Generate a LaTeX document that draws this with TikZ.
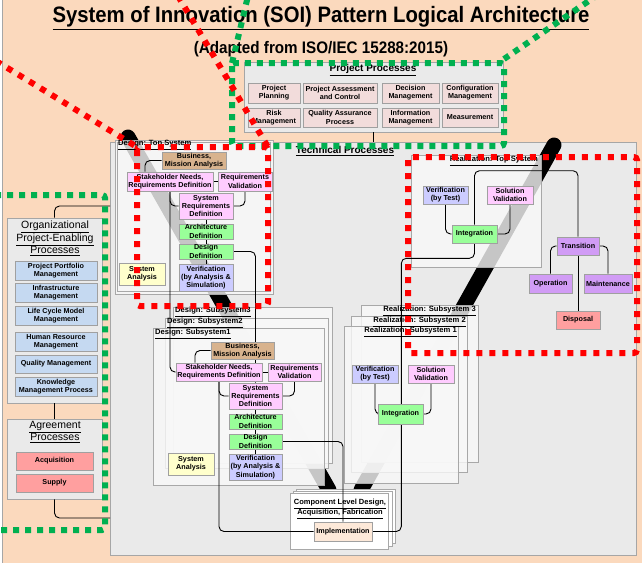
\documentclass[tikz,border=0pt]{standalone}
\usepackage{fontspec}
\setmainfont{Liberation Sans}
\definecolor{cBg}{HTML}{FBD9BD}
\definecolor{cPanel}{HTML}{EAEAEA}
\definecolor{cPanB}{HTML}{A6A6A6}
\definecolor{cSub}{HTML}{F8F8F8}
\definecolor{cSubB}{HTML}{A8A8A8}
\definecolor{cNodeB}{HTML}{A0A0A0}
\definecolor{cPP}{HTML}{F2DCDB}
\definecolor{cOrg}{HTML}{C5D9F1}
\definecolor{cAgr}{HTML}{FF9F9F}
\definecolor{cTan}{HTML}{D8B38E}
\definecolor{cPink}{HTML}{FFCCFF}
\definecolor{cGrn}{HTML}{99FF99}
\definecolor{cLav}{HTML}{CCCCFF}
\definecolor{cYel}{HTML}{FFFFCC}
\definecolor{cViol}{HTML}{D19CF5}
\definecolor{cImpl}{HTML}{FDE9D9}
\definecolor{cRed}{HTML}{FF0000}
\definecolor{cGreenD}{HTML}{00B050}
\pgfdeclarelayer{back}
\pgfdeclarelayer{mid}
\pgfdeclarelayer{front}
\pgfsetlayers{back,mid,main,front}
\newcommand\bx[7]{\node[#1, minimum width={(#4)-(#2)}, minimum height={(#5)-(#3)}] (#7) at ({((#2)+(#4))/2},{((#3)+(#5))/2}) {#6};}
\tikzset{
  panel/.style={draw=cPanB, fill=cPanel, line width=0.8pt, inner sep=0pt},
  spanel/.style={draw=cSubB, fill=cSub, fill opacity=0.8, line width=0.7pt, inner sep=0pt},
  cpanel/.style={draw=cSubB, fill=white, line width=0.7pt, inner sep=0pt},
  nb/.style={draw=cNodeB, line width=0.6pt, align=center, inner sep=0pt, font=\fontsize{7.2}{8.2}\selectfont\bfseries},
  ppb/.style={nb, fill=cPP},
  orgb/.style={nb, fill=cOrg},
  agrb/.style={nb, fill=cAgr},
  tanb/.style={nb, fill=cTan},
  pinkb/.style={nb, fill=cPink},
  grnb/.style={nb, fill=cGrn},
  lavb/.style={nb, fill=cLav},
  yelb/.style={nb, fill=cYel},
  violb/.style={nb, fill=cViol},
  dispb/.style={nb, fill=cAgr},
  implb/.style={nb, fill=cImpl},
  ptitle/.style={font=\fontsize{10}{12}\selectfont\bfseries, inner sep=0pt},
  otitle/.style={font=\fontsize{10.5}{12.5}\selectfont, inner sep=0pt, align=center},
  stitle/.style={font=\fontsize{7.6}{9}\selectfont\bfseries, inner sep=0pt},
  conn/.style={draw=black, line width=0.9pt, rounded corners=5pt},
  band/.style={draw=black, line width=15pt, line cap=round},
  reddash/.style={draw=cRed, line width=6pt, dash pattern=on 6pt off 7pt, rounded corners=3pt},
  greendash/.style={draw=cGreenD, line width=6pt, dash pattern=on 6pt off 6pt, rounded corners=3pt}
}
\begin{document}
\begin{tikzpicture}[x=1pt,y=-1pt]
\useasboundingbox (0,0) rectangle (642,563);

\begin{pgfonlayer}{back}
\fill[white] (0,0) rectangle (642,563);
\fill[cBg] (2,0) rectangle (642,563);
\draw[cPanB, line width=0.8pt] (2,0) -- (2,563);
% technical panel
\bx{panel}{110}{142}{636}{555}{}{tp}
% project processes panel
\bx{panel}{244}{62}{503}{132}{}{pp}
% organizational / agreement panels
\bx{panel}{7}{218}{102}{403}{}{org}
\bx{panel}{7}{419}{102}{499}{}{agr}
% black bands
\draw[band] (128,137) -- (329,490);
\draw[band] (554,145) -- (361,490);
% design top system
\bx{spanel}{115}{140}{273}{294}{}{dt}
\draw[cSubB, line width=0.6pt] (117.5,142.5) rectangle (270.5,291.5);
% design subsystems
\bx{spanel}{173}{307}{332}{463}{}{ds3}
\bx{spanel}{165}{318}{328}{468}{}{ds2}
\bx{spanel}{153}{328}{324}{485}{}{ds1}
% realization top
\bx{spanel}{411}{155}{541}{267}{}{rt}
% realization subsystems
\bx{spanel}{361}{305}{478}{462}{}{rs3}
\bx{spanel}{351}{316}{467}{472}{}{rs2}
\bx{spanel}{344}{326}{458}{483}{}{rs1}
% component level
\bx{cpanel}{296}{489}{395}{543}{}{cl3}
\bx{cpanel}{293}{491}{392}{546}{}{cl2}
\bx{cpanel}{290}{493}{388}{549}{}{cl1}
\end{pgfonlayer}

% titles
\node[font=\fontsize{20.3}{24}\selectfont\bfseries, inner sep=0pt] (title) at (321,18) {\scalebox{1}[1.1]{\underline{System of Innovation (SOI) Pattern Logical Architecture}}};
\node[font=\fontsize{15.2}{18}\selectfont\bfseries, inner sep=0pt] (subtitle) at (321,49) {\scalebox{1}[1.1]{(Adapted from ISO/IEC 15288:2015)}};
\node[ptitle] (tptitle) at (345,151) {\underline{Technical Processes}};
\node[ptitle] (pptitle) at (373,70) {\underline{Project Processes}};
\node[otitle, anchor=north] (orgtitle) at (55,221) {\underline{Organizational}\\\underline{Project-Enabling}\\\underline{Processes}};
\node[otitle, anchor=north] (agrtitle) at (55,421) {\underline{Agreement}\\\underline{Processes}};
\node[stitle, anchor=west] (dttitle) at (118,145) {\underline{Design: Top System}};
\node[stitle, anchor=west] (ds3t) at (175,312) {\underline{Design: Subsystem3}};
\node[stitle, anchor=west] (ds2t) at (167,323) {\underline{Design: Subsystem2}};
\node[stitle, anchor=west] (ds1t) at (155,334) {\underline{Design: Subsystem1}};
\node[stitle, anchor=east] (rttitle) at (538,161) {\underline{Realization: Top System}};
\node[stitle, anchor=east] (rs3t) at (476,311) {\underline{Realization: Subsystem 3}};
\node[stitle, anchor=east] (rs2t) at (466,322) {\underline{Realization: Subsystem 2}};
\node[stitle, anchor=east] (rs1t) at (457,332) {\underline{Realization: Subsystem 1}};
\node[stitle, align=center, font=\fontsize{7.5}{8.5}\selectfont\bfseries] (cltitle) at (340,509) {\underline{Component Level Design,}\\\underline{Acquisition, Fabrication}};

% project process boxes
\bx{ppb}{248}{83}{300}{103}{Project\\Planning}{pp1}
\bx{ppb}{303}{83}{377}{103}{Project Assessment\\and Control}{pp2}
\bx{ppb}{382}{83}{439}{103}{Decision\\Management}{pp3}
\bx{ppb}{442}{83}{498}{103}{Configuration\\Management}{pp4}
\bx{ppb}{248}{108}{300}{127}{Risk\\Management}{pp5}
\bx{ppb}{303}{108}{377}{127}{Quality Assurance\\Process}{pp6}
\bx{ppb}{382}{108}{439}{127}{Information\\Management}{pp7}
\bx{ppb}{442}{108}{498}{127}{Measurement}{pp8}

% organizational boxes
\bx{orgb}{15}{261}{97}{280}{Project Portfolio\\Management}{ob1}
\bx{orgb}{15}{283}{97}{302}{Infrastructure\\Management}{ob2}
\bx{orgb}{15}{306}{97}{325}{Life Cycle Model\\Management}{ob3}
\bx{orgb}{15}{332}{97}{351}{Human Resource\\Management}{ob4}
\bx{orgb}{15}{355}{97}{373}{Quality Management}{ob5}
\bx{orgb}{15}{377}{97}{396}{Knowledge\\Management Process}{ob6}

% agreement boxes
\bx{agrb}{16}{452}{93}{470}{Acquisition}{ab1}
\bx{agrb}{16}{474}{93}{492}{Supply}{ab2}

% design top system nodes
\bx{tanb}{162}{152}{226}{169}{Business,\\Mission Analysis}{d0b}
\bx{pinkb}{127}{172}{213}{191}{Stakeholder Needs,\\Requirements Definition}{d0s}
\bx{pinkb}{218}{172}{272}{191}{Requirements\\Validation}{d0v}
\bx{pinkb}{179}{193}{233}{219}{System\\Requirements\\Definition}{d0r}
\bx{grnb}{179}{224}{233}{239}{Architecture\\Definition}{d0a}
\bx{grnb}{179}{244}{233}{259}{Design\\Definition}{d0d}
\bx{lavb}{179}{264}{233}{291}{Verification\\(by Analysis \&\\Simulation)}{d0e}
\bx{yelb}{119}{263}{165}{285}{System\\Analysis}{d0y}

% design subsystem 1 nodes
\bx{tanb}{211}{342}{274}{359}{Business,\\Mission Analysis}{d1b}
\bx{pinkb}{176}{363}{262}{381}{Stakeholder Needs,\\Requirements Definition}{d1s}
\bx{pinkb}{268}{363}{321}{381}{Requirements\\Validation}{d1v}
\bx{pinkb}{229}{383}{282}{409}{System\\Requirements\\Definition}{d1r}
\bx{grnb}{229}{414}{282}{429}{Architecture\\Definition}{d1a}
\bx{grnb}{229}{434}{282}{449}{Design\\Definition}{d1d}
\bx{lavb}{229}{454}{282}{480}{Verification\\(by Analysis \&\\Simulation)}{d1e}
\bx{yelb}{168}{453}{214}{475}{System\\Analysis}{d1y}

% realization top system nodes
\bx{lavb}{423}{186}{468}{204}{Verification\\(by Test)}{r0e}
\bx{pinkb}{487}{186}{533}{204}{Solution\\Validation}{r0v}
\bx{grnb}{452}{225}{497}{243}{Integration}{r0i}
\bx{violb}{557}{237}{599}{255}{Transition}{r0t}
\bx{violb}{529}{274}{572}{293}{Operation}{r0o}
\bx{violb}{584}{274}{632}{293}{Maintenance}{r0m}
\bx{dispb}{556}{311}{600}{329}{Disposal}{r0d}

% realization subsystem 1 nodes
\bx{lavb}{352}{365}{398}{383}{Verification\\(by Test)}{r1e}
\bx{pinkb}{408}{365}{454}{383}{Solution\\Validation}{r1v}
\bx{grnb}{378}{404}{423}{424}{Integration}{r1i}

\bx{implb}{314}{522}{372}{541}{Implementation}{impl}

\coordinate (c1) at (110,206);
\coordinate (c2) at (110,518);

% connectors
\begin{pgfonlayer}{mid}
\draw[conn] (pp.south) -- (pp.south |- tp.north);
\draw[conn] (org.north) |- (c1);
\draw[conn] (org.south) -- (agr.north);
\draw[conn] (agr.south) |- (c2);

\draw[conn] (d0b.west) -| ([xshift=-25pt]d0s.north);
\draw[conn] (d0s.east) -- (d0v.west);
\draw[conn] (d0v.south) |- (d0r.east);
\draw[conn] (d0s.south) |- (d0r.west);
\draw[conn] (d0s.south) |- (d1s.west);
\draw[conn] (d0r.south) -- (d0a.north);
\draw[conn] (d0a.south) -- (d0d.north);
\draw[conn] (d0d.south) -- (d0e.north);
\draw[conn] (d0d.east) -| (d1r.north);

\draw[conn] (d1b.west) -| ([xshift=-24pt]d1s.north);
\draw[conn] (d1s.east) -- (d1v.west);
\draw[conn] (d1v.south) |- (d1r.east);
\draw[conn] (d1s.south) |- (d1r.west);
\draw[conn] (d1s.south) |- (impl.west);
\draw[conn] (d1r.south) -- (d1a.north);
\draw[conn] (d1a.south) -- (d1d.north);
\draw[conn] (d1d.south) -- (d1e.north);
\draw[conn] (d1d.east) -| (impl.north);

\draw[conn] (r0e.south) |- (r0i.west);
\draw[conn] (r0v.south) |- (r0i.east);
\draw[conn] (r0i.north) -- ++(0,-54) -| (r0t.north);
\draw[conn] (r0t.west) -| (r0o.north);
\draw[conn] (r0t.east) -| (r0m.north);
\draw[conn] (r0t.south) -- (r0d.north);
\draw[conn] (r0i.south) -- ++(0,15) -| ([xshift=29pt]impl.east) -- (impl.east);

\draw[conn] (r1e.south) |- (r1i.west);
\draw[conn] (r1v.south) |- (r1i.east);
\end{pgfonlayer}

% dashed callouts
\begin{pgfonlayer}{front}
\draw[greendash] (-5,195) -- (105,195) -- (105,530) -- (-5,530);
\draw[greendash] (232,63) rectangle (504,146);
\draw[greendash] (232,63) -- (248,-4);
\draw[greendash] (504,59) -- (596,-4);
\draw[reddash] (137,147) rectangle (268,306);
\draw[reddash] (-4,61) -- (137,147);
\draw[reddash] (178,-4) -- (268,147);
\draw[reddash] (408,157) rectangle (637,353);
\end{pgfonlayer}
\end{tikzpicture}
\end{document}
